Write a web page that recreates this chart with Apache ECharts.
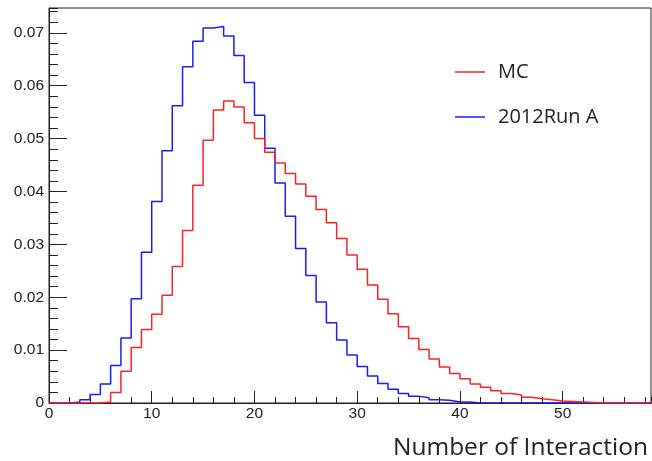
<!DOCTYPE html>
<html><head><meta charset="utf-8">
<script src="https://cdn.jsdelivr.net/npm/echarts@6/dist/echarts.min.js"></script>
<style>html,body{margin:0;padding:0;background:#fff}#c{width:652px;height:461px}</style>
</head><body><div id="c"></div>
<script>
// Bin left edges 0..58 (bin width 1)
const binStarts = Array.from({length: 59}, (_, i) => i);
const seriesNames = ['MC', '2012Run A'];
const mcValues = [
  0, 0, 0, 0, 0, 0.0002, 0.0020, 0.0060, 0.0105, 0.0139,
  0.0168, 0.0204, 0.0258, 0.0326, 0.0412, 0.0497, 0.0554, 0.0571, 0.0560, 0.0530,
  0.0500, 0.0474, 0.0454, 0.0434, 0.0414, 0.0391, 0.0366, 0.0341, 0.0311, 0.0280,
  0.0253, 0.0223, 0.0196, 0.0169, 0.0144, 0.0122, 0.0101, 0.0083, 0.0068, 0.0056,
  0.0046, 0.0036, 0.0030, 0.0023, 0.0018, 0.0015, 0.0011, 0.0008, 0.0006, 0.0004,
  0.0003, 0.0002, 0.0001, 0, 0, 0, 0, 0, 0
];
const runAValues = [
  0, 0, 0.0002, 0.0006, 0.0016, 0.0036, 0.0071, 0.0123, 0.0197, 0.0285,
  0.0381, 0.0477, 0.0562, 0.0636, 0.0684, 0.0709, 0.0712, 0.0694, 0.0657, 0.0606,
  0.0544, 0.0482, 0.0416, 0.0353, 0.0292, 0.0241, 0.0191, 0.0152, 0.0119, 0.0091,
  0.0069, 0.0051, 0.0037, 0.0026, 0.0018, 0.0013, 0.0010, 0.0006, 0.0005, 0.0002,
  0.0002, 0, 0, 0, 0, 0, 0, 0, 0, 0,
  0, 0, 0, 0, 0, 0, 0, 0, 0
];
const xTitle = 'Number of Interaction';
const X_MAX = 58.6, Y_MAX = 0.0747;

function histPoints(vals) {
  const pts = binStarts.map((x, i) => [x, vals[i]]);
  pts.push([binStarts[binStarts.length - 1] + 1, 0]);
  return pts;
}

const chart = echarts.init(document.getElementById('c'), null, {renderer: 'canvas'});
const labelFont = {fontFamily: 'Liberation Sans', fontSize: 15.5, color: '#222'};
chart.setOption({
  animation: false,
  backgroundColor: '#fff',
  grid: {left: 49, top: 8, right: 1, bottom: 58, show: true, borderColor: '#222', borderWidth: 1, backgroundColor: 'transparent'},
  legend: {
    orient: 'vertical', left: 455, top: 61, itemGap: 23, padding: 0,
    itemWidth: 30, itemHeight: 1.5, icon: 'rect',
    data: seriesNames,
    textStyle: {fontFamily: 'Open Sans', fontSize: 20, color: '#222', lineHeight: 22, padding: [0, 0, 0, 8]}
  },
  title: {
    text: xTitle, right: 4, top: 436, padding: 0,
    textStyle: {fontFamily: 'Open Sans', fontSize: 24.5, fontWeight: 'normal', color: '#222'}
  },
  xAxis: [
    {type: 'value', min: 0, max: X_MAX, interval: 10,
     axisLine: {show: true, onZero: false, lineStyle: {color: '#222', width: 1}},
     axisTick: {show: true, inside: true, length: 12, lineStyle: {color: '#222'}},
     splitLine: {show: false},
     axisLabel: Object.assign({margin: 3, showMaxLabel: false,
       formatter: v => (Math.abs(v % 10) < 1e-9 ? String(v) : '')}, labelFont)},
    {type: 'value', min: 0, max: X_MAX, interval: 2, position: 'bottom',
     axisLine: {show: false}, splitLine: {show: false}, axisLabel: {show: false},
     axisTick: {show: true, inside: true, length: 6, lineStyle: {color: '#222'}}}
  ],
  yAxis: [
    {type: 'value', min: 0, max: Y_MAX, interval: 0.01,
     axisLine: {show: true, onZero: false, lineStyle: {color: '#222', width: 1}},
     axisTick: {show: true, inside: true, length: 18, lineStyle: {color: '#222'}},
     splitLine: {show: false},
     axisLabel: Object.assign({margin: 5, showMaxLabel: false,
       formatter: v => (v === 0 ? '0' : (Math.abs(Math.round(v * 100) - v * 100) < 1e-6 ? v.toFixed(2) : ''))}, labelFont)},
    {type: 'value', min: 0, max: Y_MAX, interval: 0.002, position: 'left',
     axisLine: {show: false}, splitLine: {show: false}, axisLabel: {show: false},
     axisTick: {show: true, inside: true, length: 9, lineStyle: {color: '#222'}}}
  ],
  series: [
    {name: seriesNames[1], type: 'line', step: 'end', showSymbol: false, symbol: 'none',
     data: histPoints(runAValues), lineStyle: {color: '#1a1aff', width: 1.5}, itemStyle: {color: '#1a1aff'}, z: 3},
    {name: seriesNames[0], type: 'line', step: 'end', showSymbol: false, symbol: 'none',
     data: histPoints(mcValues), lineStyle: {color: '#ff2020', width: 1.5}, itemStyle: {color: '#ff2020'}, z: 4}
  ]
});
</script></body></html>
